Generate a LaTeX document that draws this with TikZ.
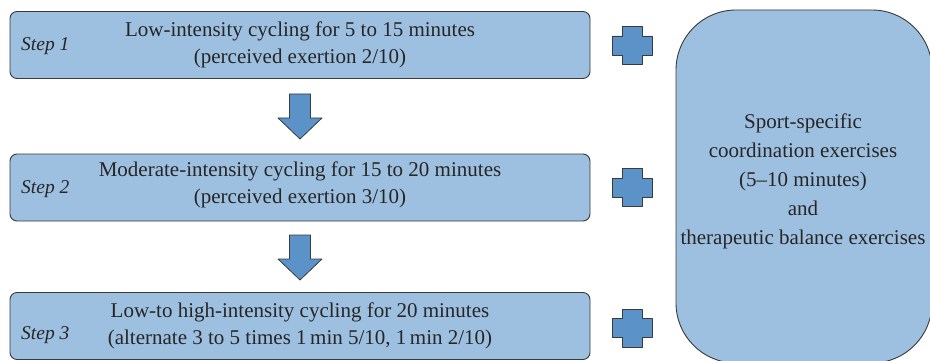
\documentclass[tikz,border=0pt]{standalone}
\usepackage{fontspec}
\setmainfont{Liberation Serif}
\usetikzlibrary{positioning}

\definecolor{boxfill}{HTML}{9DC0E0}
\definecolor{markfill}{HTML}{5B93C9}
\definecolor{edge}{HTML}{3A3A3A}

\begin{document}
\begin{tikzpicture}[
  x=1pt, y=-1pt,
  line join=round,
  every node/.style={inner sep=0pt, text=black!85},
  stepbox/.style={draw=edge, fill=boxfill, line width=0.9pt, rounded corners=7pt,
    minimum width=580pt, minimum height=67pt},
  steptext/.style={align=center, font=\fontsize{21}{27}\selectfont},
  steplabel/.style={font=\fontsize{19.5}{20}\selectfont\itshape, anchor=west},
  sidebox/.style={draw=edge, fill=boxfill, line width=0.9pt, rounded corners=60pt,
    minimum width=256pt, minimum height=353pt},
  sidetext/.style={align=center, font=\fontsize{21}{29}\selectfont},
  blockarrow/.style={draw=edge, fill=markfill, line width=0.8pt},
  plus/.style={draw=edge, fill=markfill, line width=0.8pt},
]
\useasboundingbox (0,0) rectangle (930,361);
\begin{scope}
\clip (0,0) rectangle (930,361);
\node[stepbox] (s1) at (300,45) {};
\node[stepbox] (s2) at (300,187.5) {};
\node[stepbox] (s3) at (300,326) {};
\node[sidebox] (side) at (804,186.5) {};
\end{scope}
\node[steptext] (t1) at (300,45) {Low-intensity cycling for 5 to 15 minutes\\(perceived exertion 2/10)};
\node[steptext] (t2) at (300,185) {Moderate-intensity cycling for 15 to 20 minutes\\(perceived exertion 3/10)};
\node[steptext] (t3) at (300,325.5) {Low-to high-intensity cycling for 20 minutes\\(alternate 3 to 5 times 1\,min 5/10, 1\,min 2/10)};
\node[steplabel] (l1) at (21,46) {Step 1};
\node[steplabel] (l2) at (21,189) {Step 2};
\node[steplabel] (l3) at (21,335) {Step 3};
\node[sidetext] (st) at (803,181) {Sport-specific\\coordination exercises\\(5--10 minutes)\\and\\therapeutic balance exercises};
\coordinate (a1) at (300,94);
\coordinate (a2) at (300,235);
\draw[blockarrow, shift={(a1)}] (-10.5,0) -- (10.5,0) -- (10.5,24) -- (22,24) -- (0,45) -- (-22,24) -- (-10.5,24) -- cycle;
\draw[blockarrow, shift={(a2)}] (-10.5,0) -- (10.5,0) -- (10.5,24) -- (22,24) -- (0,45) -- (-22,24) -- (-10.5,24) -- cycle;
\coordinate (p1) at (632,45.5);
\coordinate (p2) at (632,187.5);
\coordinate (p3) at (632,328);
\draw[plus, shift={(p1)}] (-10,-19) -- (10,-19) -- (10,-9.5) -- (20,-9.5) -- (20,9.5) -- (10,9.5) -- (10,19) -- (-10,19) -- (-10,9.5) -- (-20,9.5) -- (-20,-9.5) -- (-10,-9.5) -- cycle;
\draw[plus, shift={(p2)}] (-10,-19) -- (10,-19) -- (10,-9.5) -- (20,-9.5) -- (20,9.5) -- (10,9.5) -- (10,19) -- (-10,19) -- (-10,9.5) -- (-20,9.5) -- (-20,-9.5) -- (-10,-9.5) -- cycle;
\draw[plus, shift={(p3)}] (-10,-19) -- (10,-19) -- (10,-9.5) -- (20,-9.5) -- (20,9.5) -- (10,9.5) -- (10,19) -- (-10,19) -- (-10,9.5) -- (-20,9.5) -- (-20,-9.5) -- (-10,-9.5) -- cycle;
\end{tikzpicture}
\end{document}
